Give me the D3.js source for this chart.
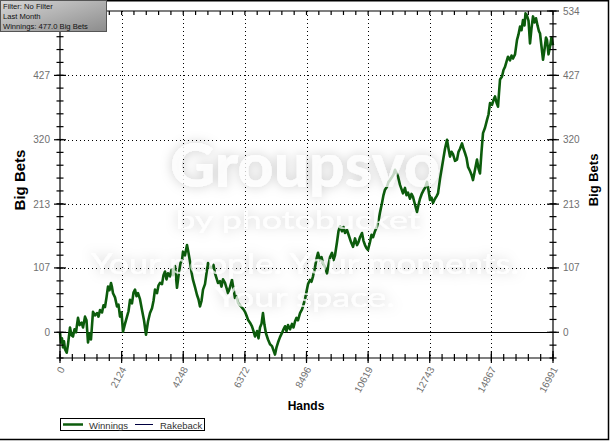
<!DOCTYPE html>
<html><head><meta charset="utf-8">
<script src="https://cdn.jsdelivr.net/npm/d3@7"></script>
<style>
html,body{margin:0;padding:0;background:#fff;}
svg{display:block;font-family:"Liberation Sans",Arial,sans-serif;}
</style></head>
<body>
<svg id="chart" width="613" height="441"></svg>
<script>
// ---- data ----
const hands = [0,34,69,103,138,172,231,276,345,396,448,500,551,620,672,748,793,862,913,965,1017,1068,1137,1206,1275,1327,1379,1448,1499,1551,1603,1654,1706,1758,1792,1827,1896,1965,2016,2068,2120,2171,2240,2309,2361,2413,2481,2533,2585,2637,2688,2757,2826,2895,2964,3033,3102,3171,3222,3274,3343,3395,3447,3515,3567,3619,3670,3722,3791,3843,3894,3963,4032,4101,4153,4205,4239,4308,4377,4429,4481,4532,4584,4653,4722,4773,4825,4877,4929,4997,5049,5101,5170,5239,5290,5342,5394,5445,5514,5566,5618,5687,5738,5790,5859,5928,5980,6031,6083,6135,6204,6273,6324,6376,6428,6479,6548,6617,6669,6721,6790,6841,6893,6945,6996,7048,7100,7169,7238,7307,7358,7410,7462,7513,7582,7651,7703,7755,7806,7858,7927,7996,8047,8099,8151,8203,8272,8341,8375,8444,8496,8547,8616,8668,8720,8789,8840,8892,8961,9013,9064,9133,9202,9254,9306,9374,9426,9478,9547,9598,9650,9719,9771,9823,9891,9960,10029,10098,10167,10236,10288,10340,10408,10460,10512,10564,10615,10684,10736,10788,10856,10925,10977,11029,11098,11149,11201,11270,11322,11373,11442,11494,11546,11597,11649,11718,11770,11821,11890,11942,11994,12063,12114,12166,12235,12304,12356,12407,12476,12528,12580,12649,12700,12752,12804,12855,12924,12976,13028,13097,13166,13217,13269,13338,13390,13441,13493,13545,13614,13683,13734,13786,13855,13907,13958,14010,14062,14131,14182,14234,14303,14372,14424,14475,14527,14579,14648,14717,14768,14820,14889,14941,14992,15044,15096,15130,15165,15234,15285,15337,15389,15440,15509,15561,15613,15682,15751,15802,15854,15906,15957,16009,16043,16095,16147,16199,16250,16302,16354,16405,16457,16509,16543,16595,16647,16698,16750,16784,16836,16888,16939,16991];
const winnings = [0,-17,-10,-25,-15,-28,-34,-20,8,-5,-7,5,0,24,12,16,8,26,20,-17,-2,-12,34,28,32,26,37,33,45,42,58,76,70,82,75,65,58,43,46,26,33,1,14,26,35,54,48,66,71,60,65,55,37,20,-4,18,32,40,52,71,65,78,82,80,95,101,88,98,93,104,95,110,74,100,115,120,134,128,145,132,117,100,87,75,62,55,43,52,71,80,98,115,108,107,112,98,90,82,85,76,88,82,74,65,75,87,72,57,60,49,45,41,38,34,28,21,16,10,2,-7,2,-10,8,14,32,12,-2,-12,-20,-23,-30,-37,-25,-17,-8,-1,5,10,2,12,5,14,8,18,24,20,32,38,43,55,68,80,87,84,93,108,122,132,120,125,115,108,98,112,125,132,120,128,150,168,176,168,175,165,170,160,150,142,156,145,150,158,165,152,145,140,137,150,162,158,168,176,185,199,215,228,237,242,250,253,258,262,270,265,259,245,238,231,240,228,232,222,230,225,212,200,212,222,231,236,240,250,236,220,224,215,222,226,231,255,275,290,305,320,305,292,300,296,285,287,300,305,314,305,298,290,275,268,262,253,270,287,272,264,300,331,340,353,362,381,378,386,392,382,375,398,420,425,436,441,450,458,452,460,455,462,486,495,508,502,519,510,530,526,518,480,505,525,515,522,510,500,497,475,453,470,490,486,462,475,490,477];
const xTickValues = [0,2124,4248,6372,8496,10619,12743,14867,16991];
const xTickLabels = ["0","2124","4248","6372","8496","10619","12743","14867","16991"];
const yTickValues = [0,107,213,320,427,534];
const yTickLabels = ["0","107","213","320","427","534"];
const yMin = -42.72, yMax = 534, xMax = 16991;
const infoLines = ["Filter: No Filter","Last Month","Winnings: 477.0 Big Bets"];
const legendItems = ["Winnings","Rakeback"];
const watermark = ["Groupsvo","by photobucket","Your people. Your moments.","Your space."];

// ---- layout ----
const svg = d3.select("#chart");
const L = 60, R = 553, T = 11, B = 358;
const x = d3.scaleLinear().domain([0, xMax]).range([L, R]);
const y = d3.scaleLinear().domain([yMin, yMax]).range([B, T]);
const tickCol = "#707070";
const defs = svg.append("defs");

// outer frame (top, right, bottom)
svg.append("path").attr("d","M0,0.75H608.5V439.5H0").attr("fill","none").attr("stroke","#000").attr("stroke-width",1.5);

// grid
const minorX = d3.range(0, 41).map(i => i * xMax / 40);
const minorY = d3.range(0, 28).map(i => yMin + i * (yMax / 25));
const g = svg.append("g");
g.selectAll(".vg").data(xTickValues.slice(1, -1)).enter().append("line")
  .attr("x1", d => Math.round(x(d)) + 0.5).attr("x2", d => Math.round(x(d)) + 0.5)
  .attr("y1", T).attr("y2", B).attr("stroke", "#000").attr("stroke-dasharray", "1,3");
g.selectAll(".hg").data(yTickValues.slice(1, -1)).enter().append("line")
  .attr("x1", L).attr("x2", R)
  .attr("y1", d => Math.round(y(d)) + 0.5).attr("y2", d => Math.round(y(d)) + 0.5)
  .attr("stroke", "#000").attr("stroke-dasharray", "1,3");
g.append("line").attr("x1", L).attr("x2", R).attr("y1", Math.round(y(0)) + 0.5).attr("y2", Math.round(y(0)) + 0.5)
  .attr("stroke", "#000").attr("stroke-width", 1.2);

// data line
const line = d3.line().x((d, i) => x(hands[i])).y(d => y(d));
svg.append("path").datum(winnings).attr("d", line).attr("fill", "none")
  .attr("stroke", "#0c5c0c").attr("stroke-width", 2.6).attr("stroke-linejoin", "round");

// watermark (white text with soft grey glow)
const f = defs.append("filter").attr("id", "sh").attr("x", "-20%").attr("y", "-60%").attr("width", "140%").attr("height", "220%");
f.append("feGaussianBlur").attr("in", "SourceAlpha").attr("stdDeviation", 6).attr("result", "b");
f.append("feFlood").attr("flood-color", "#000").attr("flood-opacity", 0.26).attr("result", "c");
f.append("feComposite").attr("in", "c").attr("in2", "b").attr("operator", "in").attr("result", "s");
const fm = f.append("feMerge");
fm.append("feMergeNode").attr("in", "s");
fm.append("feMergeNode").attr("in", "SourceGraphic");
const wmSpec = [
  {t: watermark[0], x: 305, y: 187, s: 60, w: 900, len: 270},
  {t: watermark[1], x: 298, y: 229, s: 25, w: 400, len: 245},
  {t: watermark[2], x: 305, y: 274, s: 28, w: 400, len: 428},
  {t: watermark[3], x: 305, y: 307, s: 27, w: 400, len: 180}
];
svg.append("g").attr("font-family", "Lato, 'Open Sans', sans-serif").attr("filter", "url(#sh)")
  .selectAll("text").data(wmSpec).enter().append("text")
  .attr("x", d => d.x).attr("y", d => d.y).attr("text-anchor", "middle")
  .attr("font-size", d => d.s).attr("font-weight", d => d.w)
  .attr("textLength", d => d.len).attr("lengthAdjust", "spacingAndGlyphs")
  .attr("fill", "#fff").attr("fill-opacity", 0.75).text(d => d.t);

// axes lines
const ax = svg.append("g").attr("stroke", "#000").attr("stroke-width", 1.2);
ax.append("line").attr("x1", L).attr("x2", L).attr("y1", T).attr("y2", B);
ax.append("line").attr("x1", R).attr("x2", R).attr("y1", T).attr("y2", B);
ax.append("line").attr("x1", L).attr("x2", R).attr("y1", B).attr("y2", B);
ax.append("line").attr("x1", L).attr("x2", R).attr("y1", T).attr("y2", T);

// x ticks
ax.selectAll(".xm").data(minorX).enter().append("line")
  .attr("x1", d => x(d)).attr("x2", d => x(d)).attr("y1", B - 4).attr("y2", B + 3);
ax.selectAll(".xM").data(xTickValues).enter().append("line")
  .attr("x1", d => x(d)).attr("x2", d => x(d)).attr("y1", B - 7).attr("y2", B + 5);
ax.selectAll(".xt").data(minorX).enter().append("line")
  .attr("x1", d => x(d)).attr("x2", d => x(d)).attr("y1", T).attr("y2", T + 4);
// y ticks
[L, R].forEach(px => {
  ax.selectAll(null).data(minorY).enter().append("line")
    .attr("x1", px - 3.5).attr("x2", px + 3.5).attr("y1", d => y(d)).attr("y2", d => y(d));
  ax.selectAll(null).data(yTickValues).enter().append("line")
    .attr("x1", px - 6).attr("x2", px + 6).attr("y1", d => y(d)).attr("y2", d => y(d));
});

// tick labels (the left top label sits under the info box in the reference, so it is not drawn)
const tl = svg.append("g").attr("font-size", 10).attr("fill", tickCol);
tl.selectAll(".yl").data(yTickValues.slice(0, -1)).enter().append("text")
  .attr("x", L - 10).attr("y", d => y(d) + 3.5).attr("text-anchor", "end")
  .text((d, i) => yTickLabels[i]);
tl.selectAll(".yr").data(yTickValues).enter().append("text")
  .attr("x", R + 10).attr("y", d => y(d) + 3.5).attr("text-anchor", "start")
  .text((d, i) => yTickLabels[i]);
tl.selectAll(".xl").data(xTickValues).enter().append("text")
  .attr("text-anchor", "end")
  .attr("transform", d => `translate(${x(d) + 5},${B + 11}) rotate(-62)`)
  .text((d, i) => xTickLabels[i]);

// axis titles
svg.append("text").attr("transform", "translate(25,180) rotate(-90)").attr("text-anchor", "middle")
  .attr("font-size", 15).attr("font-weight", "bold").attr("fill", "#000").text("Big Bets");
svg.append("text").attr("transform", "translate(598,180) rotate(-90)").attr("text-anchor", "middle")
  .attr("font-size", 13).attr("font-weight", "bold").attr("fill", "#000").text("Big Bets");
svg.append("text").attr("x", 306).attr("y", 410).attr("text-anchor", "middle")
  .attr("font-size", 12).attr("font-weight", "bold").attr("fill", "#000").text("Hands");

// legend
const lg = svg.append("g");
lg.append("rect").attr("x", 60.5).attr("y", 418.5).attr("width", 144).attr("height", 12)
  .attr("fill", "#fff").attr("stroke", "#000");
lg.append("line").attr("x1", 63).attr("x2", 83).attr("y1", 424.5).attr("y2", 424.5).attr("stroke", "#0c5c0c").attr("stroke-width", 2.5);
lg.append("text").attr("x", 89).attr("y", 428.5).attr("font-size", 9.5).attr("fill", "#333").text(legendItems[0]);
lg.append("line").attr("x1", 135).attr("x2", 153).attr("y1", 424.5).attr("y2", 424.5).attr("stroke", "#000040").attr("stroke-width", 1);
lg.append("text").attr("x", 160).attr("y", 428.5).attr("font-size", 9.5).attr("fill", "#333").text(legendItems[1]);

// info box
const grad = defs.append("linearGradient").attr("id", "ib").attr("x1", "0").attr("y1", "0").attr("x2", "1").attr("y2", "1");
grad.append("stop").attr("offset", "0").attr("stop-color", "#d6d6d6");
grad.append("stop").attr("offset", "1").attr("stop-color", "#8c8c8c");
svg.append("rect").attr("x", 0.5).attr("y", 0.5).attr("width", 106).attr("height", 31)
  .attr("fill", "url(#ib)").attr("stroke", "#555");
svg.append("g").attr("font-family", "'Liberation Sans', Arial, sans-serif").attr("font-size", 7.6).attr("fill", "#111")
  .selectAll("text").data(infoLines).enter().append("text")
  .attr("x", 3).attr("y", (d, i) => 8.5 + i * 10).text(d => d);
</script>
</body></html>
